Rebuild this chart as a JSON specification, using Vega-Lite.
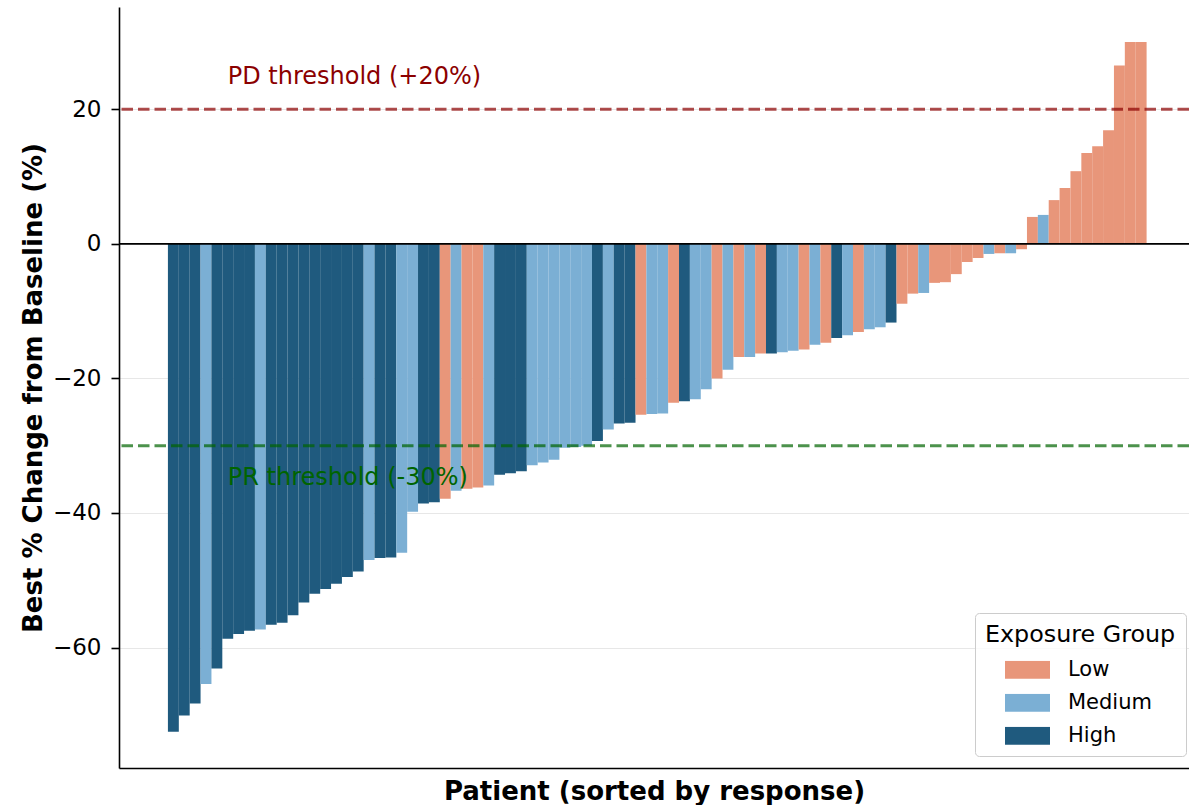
{
  "$schema": "https://vega.github.io/schema/vega-lite/v6.json",
  "autosize": {"type": "none"},
  "padding": {"left": 119, "top": 7, "right": 0, "bottom": 37},
  "width": 1070,
  "height": 761,
  "config": {
    "font": "DejaVu Sans",
    "view": {"stroke": null},
    "axis": {"labelFont": "DejaVu Sans", "titleFont": "DejaVu Sans"},
    "legend": {"labelFont": "DejaVu Sans", "titleFont": "DejaVu Sans"}
  },
  "layer": [
    {
      "data": {"values": [
        {"patient": 1, "change": -72.5, "group": "High"},
        {"patient": 2, "change": -70.1, "group": "High"},
        {"patient": 3, "change": -68.3, "group": "High"},
        {"patient": 4, "change": -65.4, "group": "Medium"},
        {"patient": 5, "change": -63.1, "group": "High"},
        {"patient": 6, "change": -58.7, "group": "High"},
        {"patient": 7, "change": -58.0, "group": "High"},
        {"patient": 8, "change": -57.5, "group": "High"},
        {"patient": 9, "change": -57.3, "group": "Medium"},
        {"patient": 10, "change": -56.6, "group": "High"},
        {"patient": 11, "change": -56.3, "group": "High"},
        {"patient": 12, "change": -55.2, "group": "High"},
        {"patient": 13, "change": -53.3, "group": "High"},
        {"patient": 14, "change": -52.0, "group": "High"},
        {"patient": 15, "change": -51.3, "group": "High"},
        {"patient": 16, "change": -50.5, "group": "High"},
        {"patient": 17, "change": -49.5, "group": "High"},
        {"patient": 18, "change": -48.7, "group": "High"},
        {"patient": 19, "change": -47.0, "group": "Medium"},
        {"patient": 20, "change": -46.7, "group": "High"},
        {"patient": 21, "change": -46.6, "group": "High"},
        {"patient": 22, "change": -45.9, "group": "Medium"},
        {"patient": 23, "change": -39.8, "group": "Medium"},
        {"patient": 24, "change": -38.6, "group": "High"},
        {"patient": 25, "change": -38.4, "group": "High"},
        {"patient": 26, "change": -37.9, "group": "Low"},
        {"patient": 27, "change": -36.7, "group": "Medium"},
        {"patient": 28, "change": -36.4, "group": "Low"},
        {"patient": 29, "change": -36.2, "group": "Low"},
        {"patient": 30, "change": -35.9, "group": "Medium"},
        {"patient": 31, "change": -34.3, "group": "High"},
        {"patient": 32, "change": -34.1, "group": "High"},
        {"patient": 33, "change": -33.8, "group": "High"},
        {"patient": 34, "change": -32.9, "group": "Medium"},
        {"patient": 35, "change": -32.5, "group": "Medium"},
        {"patient": 36, "change": -32.1, "group": "Medium"},
        {"patient": 37, "change": -30.3, "group": "Medium"},
        {"patient": 38, "change": -30.2, "group": "Medium"},
        {"patient": 39, "change": -30.0, "group": "Medium"},
        {"patient": 40, "change": -29.3, "group": "High"},
        {"patient": 41, "change": -27.6, "group": "Medium"},
        {"patient": 42, "change": -26.7, "group": "High"},
        {"patient": 43, "change": -26.6, "group": "High"},
        {"patient": 44, "change": -25.4, "group": "Low"},
        {"patient": 45, "change": -25.3, "group": "Medium"},
        {"patient": 46, "change": -25.2, "group": "Medium"},
        {"patient": 47, "change": -23.6, "group": "Low"},
        {"patient": 48, "change": -23.4, "group": "High"},
        {"patient": 49, "change": -23.1, "group": "Medium"},
        {"patient": 50, "change": -21.6, "group": "Medium"},
        {"patient": 51, "change": -20.0, "group": "Low"},
        {"patient": 52, "change": -18.7, "group": "Medium"},
        {"patient": 53, "change": -16.8, "group": "Low"},
        {"patient": 54, "change": -16.8, "group": "Medium"},
        {"patient": 55, "change": -16.3, "group": "Low"},
        {"patient": 56, "change": -16.3, "group": "High"},
        {"patient": 57, "change": -16.1, "group": "Medium"},
        {"patient": 58, "change": -15.9, "group": "Medium"},
        {"patient": 59, "change": -15.7, "group": "Low"},
        {"patient": 60, "change": -15.0, "group": "Medium"},
        {"patient": 61, "change": -14.7, "group": "Low"},
        {"patient": 62, "change": -14.0, "group": "High"},
        {"patient": 63, "change": -13.6, "group": "Medium"},
        {"patient": 64, "change": -13.1, "group": "Low"},
        {"patient": 65, "change": -12.7, "group": "Medium"},
        {"patient": 66, "change": -12.4, "group": "Medium"},
        {"patient": 67, "change": -11.7, "group": "High"},
        {"patient": 68, "change": -8.9, "group": "Low"},
        {"patient": 69, "change": -7.4, "group": "Low"},
        {"patient": 70, "change": -7.3, "group": "Medium"},
        {"patient": 71, "change": -5.8, "group": "Low"},
        {"patient": 72, "change": -5.7, "group": "Low"},
        {"patient": 73, "change": -4.5, "group": "Low"},
        {"patient": 74, "change": -2.7, "group": "Low"},
        {"patient": 75, "change": -2.1, "group": "Low"},
        {"patient": 76, "change": -1.5, "group": "Medium"},
        {"patient": 77, "change": -1.4, "group": "Low"},
        {"patient": 78, "change": -1.4, "group": "Medium"},
        {"patient": 79, "change": -0.8, "group": "Low"},
        {"patient": 80, "change": 4.0, "group": "Low"},
        {"patient": 81, "change": 4.3, "group": "Medium"},
        {"patient": 82, "change": 6.5, "group": "Low"},
        {"patient": 83, "change": 8.3, "group": "Low"},
        {"patient": 84, "change": 10.8, "group": "Low"},
        {"patient": 85, "change": 13.5, "group": "Low"},
        {"patient": 86, "change": 14.5, "group": "Low"},
        {"patient": 87, "change": 16.9, "group": "Low"},
        {"patient": 88, "change": 26.5, "group": "Low"},
        {"patient": 89, "change": 30.0, "group": "Low"},
        {"patient": 90, "change": 30.0, "group": "Low"}
      ]},
      "mark": {"type": "bar", "width": 10.9, "opacity": 1},
      "encoding": {
        "x": {
          "field": "patient", "type": "quantitative",
          "scale": {"domain": [-4, 94.4], "nice": false, "zero": false, "padding": 0},
          "axis": {
            "title": "Patient (sorted by response)",
            "titleFontSize": 26, "titleFontWeight": "bold", "titleColor": "#000",
            "titlePadding": 10,
            "labels": false, "ticks": false, "grid": false,
            "domainColor": "#000", "domainWidth": 1.6
          }
        },
        "y": {
          "field": "change", "type": "quantitative",
          "scale": {"domain": [-77.9, 35.2], "nice": false, "zero": false, "padding": 0},
          "axis": {
            "title": "Best % Change from Baseline (%)",
            "titleFontSize": 26, "titleFontWeight": "bold", "titleColor": "#000",
            "titlePadding": 6,
            "values": [-60, -40, -20, 0, 20],
            "labelFontSize": 23, "labelColor": "#000", "labelPadding": 10,
            "tickSize": 8, "tickWidth": 1.6, "tickColor": "#000",
            "domainColor": "#000", "domainWidth": 1.6,
            "grid": true, "gridColor": "#b0b0b0", "gridOpacity": 0.3, "gridWidth": 1.2
          }
        },
        "color": {
          "field": "group", "type": "nominal",
          "scale": {"domain": ["Low", "Medium", "High"], "range": ["#e8967a", "#7bafd4", "#1f5a7e"]},
          "legend": {
            "title": "Exposure Group",
            "orient": "none", "legendX": 856, "legendY": 606,
            "padding": 10, "strokeColor": "#cccccc", "cornerRadius": 4, "fillColor": "rgba(255,255,255,0.8)",
            "titleFontSize": 23.8, "titleFontWeight": "normal", "titleColor": "#000", "titlePadding": 14, "titleLimit": 400,
            "labelFontSize": 21, "labelColor": "#000",
            "symbolType": "M-1,-0.4H1V0.4H-1Z", "symbolSize": 2025, "symbolStrokeWidth": 0, "symbolOpacity": 1,
            "symbolOffset": 20, "labelOffset": 18, "clipHeight": 18, "rowPadding": 12
          }
        }
      }
    },
    {
      "data": {"values": [{}]},
      "mark": {"type": "rule", "color": "#000", "strokeWidth": 1.6},
      "encoding": {"y": {"datum": 0, "title": null}}
    },
    {
      "data": {"values": [{}]},
      "mark": {"type": "rule", "color": "#8b0000", "strokeOpacity": 0.7, "strokeWidth": 3.1, "strokeDash": [11.5, 5]},
      "encoding": {"y": {"datum": 20, "title": null}}
    },
    {
      "data": {"values": [{}]},
      "mark": {"type": "rule", "color": "#006400", "strokeOpacity": 0.7, "strokeWidth": 3.1, "strokeDash": [11.5, 5]},
      "encoding": {"y": {"datum": -30, "title": null}}
    },
    {
      "data": {"values": [{}]},
      "mark": {"type": "text", "align": "left", "baseline": "alphabetic", "fontSize": 24, "color": "#8b0000"},
      "encoding": {"x": {"datum": 6.0, "title": null}, "y": {"datum": 23.7, "title": null}, "text": {"value": "PD threshold (+20%)"}}
    },
    {
      "data": {"values": [{}]},
      "mark": {"type": "text", "align": "left", "baseline": "alphabetic", "fontSize": 24, "color": "#006400"},
      "encoding": {"x": {"datum": 6.0, "title": null}, "y": {"datum": -35.9, "title": null}, "text": {"value": "PR threshold (-30%)"}}
    }
  ]
}
